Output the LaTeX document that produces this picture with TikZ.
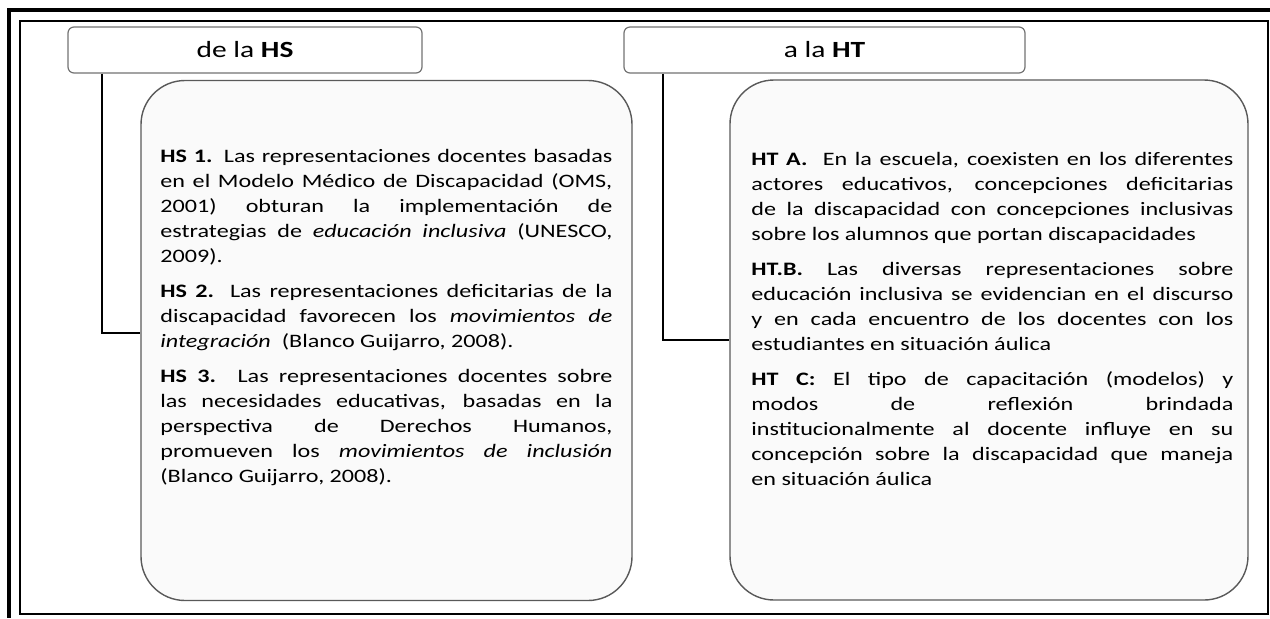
\documentclass[tikz,border=0pt]{standalone}
\usepackage{fontspec}
\setmainfont{Carlito}[FakeStretch=1.27]
\usetikzlibrary{positioning, calc}

\tolerance=10000
\hyphenpenalty=10000
\exhyphenpenalty=10000

\begin{document}
\begin{tikzpicture}[
    x=0.5pt, y=-0.5pt,
    head/.style={rectangle, rounded corners=3pt, draw=black!55, line width=0.6pt, fill=white, minimum height=23pt, font=\fontsize{11.6pt}{14pt}\selectfont},
    hypbox/.style={rectangle, rounded corners=22pt, draw=black!65, line width=0.7pt, fill=black!2, minimum height=260pt},
    body/.style={inner sep=0pt, align=justify, font=\fontsize{9.5pt}{12.5pt}\selectfont},
    conn/.style={line width=1pt, black},
    frame/.style={line width=2pt, black}
]
\useasboundingbox (0,0) rectangle (1270,618);

% Double frame
\draw[frame] (7,10) -- (1270,10);
\draw[frame] (9,8) -- (9,618);
\draw[line width=1pt] (20,21) rectangle (1268,614);

% Header nodes
\node[head, minimum width=177pt] (hshead) at (245,50) {de la \textbf{HS}};
\node[head, minimum width=200.5pt] (hthead) at (824.5,50) {a la \textbf{HT}};

% Hypothesis boxes
\node[hypbox, minimum width=245.5pt] (hsbox) at (386.5,340.5) {};
\node[hypbox, minimum width=259pt] (htbox) at (989,340) {};

% Connectors
\draw[conn] ([xshift=17.5pt]hshead.south west) |- ([yshift=3.75pt]hsbox.west);
\draw[conn] ([xshift=20pt]hthead.south west) |- (htbox.west);

% Texts of the HS
\node[body, text width=226pt, anchor=north west] (hstext) at (160,149) {%
\textbf{HS 1.} Las representaciones docentes basadas\linebreak
en el Modelo Médico de Discapacidad (OMS,\linebreak
2001) obturan la implementación de\linebreak
estrategias de \textit{educación inclusiva} (UNESCO,\linebreak
2009).\par\vspace{5pt}
\textbf{HS 2.} Las representaciones deficitarias de la\linebreak
discapacidad favorecen los \textit{movimientos de}\linebreak
\textit{integración}\ \ (Blanco Guijarro, 2008).\par\vspace{5pt}
\textbf{HS 3.} Las representaciones docentes sobre\linebreak
las necesidades educativas, basadas en la\linebreak
perspectiva de Derechos Humanos,\linebreak
promueven los \textit{movimientos de inclusión}\linebreak
(Blanco Guijarro, 2008).};

% Texts of the HT
\node[body, text width=241pt, anchor=north west] (httext) at (751,152) {%
\textbf{HT A.}\ \ En la escuela, coexisten en los diferentes\linebreak
actores educativos, concepciones deficitarias\linebreak
de la discapacidad con concepciones inclusivas\linebreak
sobre los alumnos que portan discapacidades\par\vspace{5pt}
\textbf{HT.B.} Las diversas representaciones sobre\linebreak
educación inclusiva se evidencian en el discurso\linebreak
y en cada encuentro de los docentes con los\linebreak
estudiantes en situación áulica\par\vspace{5pt}
\textbf{HT C:} El tipo de capacitación (modelos) y\linebreak
modos de reflexión brindada\linebreak
institucionalmente al docente influye en su\linebreak
concepción sobre la discapacidad que maneja\linebreak
en situación áulica};

\end{tikzpicture}
\end{document}
